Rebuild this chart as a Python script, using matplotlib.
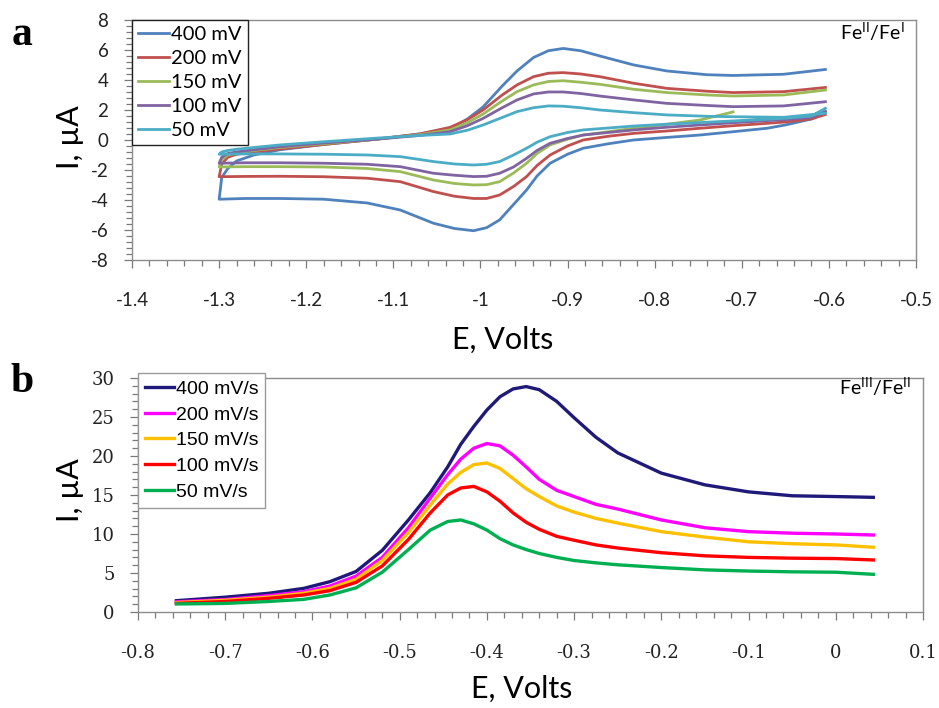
import numpy as np
import matplotlib.pyplot as plt
from matplotlib.ticker import MultipleLocator, FuncFormatter

plt.rcParams['font.family'] = ['Lato', 'DejaVu Sans']
plt.rcParams['mathtext.fontset'] = 'custom'
plt.rcParams['mathtext.rm'] = 'Lato'

# ---- panel a : cyclic voltammograms Fe(II)/Fe(I) ----
# forward (upper) branch, -1.3 -> -0.6 V
E_up = [-1.30, -1.297, -1.29, -1.28, -1.26, -1.23, -1.18, -1.12, -1.07, -1.035,
        -1.015, -0.997, -0.975, -0.958, -0.939, -0.922, -0.905, -0.885, -0.863,
        -0.824, -0.786, -0.74, -0.71, -0.652, -0.604]
# reverse (lower) branch, -0.6 -> -1.3 V
E_dn = [-0.604, -0.62, -0.65, -0.671, -0.71, -0.748, -0.786, -0.824, -0.853,
        -0.882, -0.90, -0.920, -0.935, -0.947, -0.962, -0.978, -0.993, -1.008,
        -1.03, -1.054, -1.092, -1.13, -1.18, -1.23, -1.27, -1.30]

labels_a = ['400 mV', '200 mV', '150 mV', '100 mV', '50 mV']
colors_a = ['#4F81BD', '#C0504D', '#9BBB59', '#8064A2', '#4BACC6']

up_400 = [-3.95, -2.5, -1.9, -1.4, -1.0, -0.65, -0.3, 0.05, 0.4, 0.75, 1.4, 2.2, 3.6,
          4.6, 5.5, 5.95, 6.1, 5.95, 5.6, 5.0, 4.6, 4.35, 4.3, 4.38, 4.7]
up_200 = [-2.45, -1.6, -1.15, -0.95, -0.8, -0.6, -0.3, 0.05, 0.4, 0.84, 1.35, 2.0, 3.0,
          3.67, 4.22, 4.45, 4.49, 4.4, 4.22, 3.78, 3.44, 3.25, 3.16, 3.22, 3.5]
up_150 = [-1.8, -1.3, -1.0, -0.85, -0.7, -0.5, -0.25, 0.05, 0.35, 0.67, 1.15, 1.73, 2.6,
          3.22, 3.67, 3.9, 3.95, 3.85, 3.71, 3.38, 3.16, 3.0, 2.93, 3.0, 3.33]
up_100 = [-1.55, -1.15, -0.9, -0.8, -0.65, -0.45, -0.2, 0.05, 0.3, 0.55, 0.95, 1.44, 2.15,
          2.67, 3.07, 3.2, 3.2, 3.1, 2.93, 2.67, 2.44, 2.3, 2.22, 2.27, 2.55]
up_50 = [-0.95, -0.8, -0.7, -0.62, -0.5, -0.33, -0.12, 0.12, 0.3, 0.4, 0.65, 1.0, 1.5,
         1.89, 2.15, 2.27, 2.25, 2.15, 2.0, 1.82, 1.67, 1.58, 1.55, 1.51, 1.78]

dn_400 = [1.9, 1.4, 1.0, 0.78, 0.55, 0.33, 0.17, 0.0, -0.25, -0.55, -0.95, -1.55, -2.4,
          -3.33, -4.3, -5.33, -5.85, -6.05, -5.9, -5.55, -4.67, -4.2, -3.95, -3.9, -3.9, -3.95]
dn_200 = [1.7, 1.4, 1.2, 1.11, 0.95, 0.78, 0.6, 0.44, 0.25, 0.0, -0.4, -1.0, -1.7,
          -2.44, -3.1, -3.67, -3.9, -3.9, -3.75, -3.44, -2.78, -2.55, -2.45, -2.42, -2.43, -2.45]
dn_150 = [np.nan, np.nan, np.nan, np.nan, 1.87, 1.33, 1.05, 0.78, 0.55, 0.33, 0.05, -0.33, -0.9,
          -1.55, -2.2, -2.78, -2.98, -3.0, -2.9, -2.67, -2.11, -1.9, -1.8, -1.78, -1.78, -1.8]
dn_100 = [1.89, 1.5, 1.35, 1.29, 1.15, 1.0, 0.85, 0.67, 0.5, 0.33, 0.1, -0.22, -0.7,
          -1.22, -1.8, -2.22, -2.42, -2.44, -2.35, -2.22, -1.78, -1.62, -1.55, -1.52, -1.52, -1.55]
dn_50 = [2.11, 1.6, 1.45, 1.38, 1.27, 1.16, 1.05, 0.93, 0.8, 0.67, 0.5, 0.22, -0.15,
         -0.55, -1.0, -1.44, -1.62, -1.67, -1.6, -1.44, -1.11, -1.0, -0.95, -0.93, -0.93, -0.95]

ups = [up_400, up_200, up_150, up_100, up_50]
dns = [dn_400, dn_200, dn_150, dn_100, dn_50]

# ---- panel b : linear sweeps Fe(III)/Fe(II) ----
E_b = [-0.756, -0.70, -0.65, -0.61, -0.58, -0.55, -0.52, -0.49, -0.465, -0.445, -0.43,
       -0.415, -0.40, -0.385, -0.37, -0.355, -0.34, -0.32, -0.30, -0.275, -0.25, -0.20,
       -0.15, -0.10, -0.05, 0.0, 0.043]
labels_b = ['400 mV/s', '200 mV/s', '150 mV/s', '100 mV/s', '50 mV/s']
colors_b = ['#1F1A7A', '#FF00FF', '#FFC000', '#FF0000', '#00B050']

i_400 = [1.45, 1.9, 2.4, 3.03, 3.89, 5.2, 7.9, 11.8, 15.3, 18.6, 21.5, 23.8, 25.9, 27.6,
         28.6, 28.9, 28.5, 27.0, 24.9, 22.4, 20.4, 17.8, 16.3, 15.4, 14.9, 14.8, 14.7]
i_200 = [1.3, 1.6, 2.1, 2.6, 3.33, 4.6, 7.0, 10.8, 14.6, 17.6, 19.6, 21.0, 21.6, 21.3,
         20.1, 18.6, 17.0, 15.6, 14.8, 13.8, 13.2, 11.8, 10.8, 10.3, 10.1, 10.0, 9.87]
i_150 = [1.2, 1.5, 1.9, 2.4, 3.03, 4.2, 6.6, 10.2, 13.7, 16.4, 17.9, 18.9, 19.1, 18.4,
         17.1, 15.8, 14.8, 13.6, 12.8, 12.0, 11.4, 10.3, 9.6, 9.0, 8.75, 8.6, 8.3]
i_100 = [1.1, 1.35, 1.75, 2.18, 2.74, 3.8, 5.9, 9.3, 12.7, 15.0, 15.9, 16.1, 15.4, 14.2,
         12.7, 11.5, 10.6, 9.7, 9.2, 8.6, 8.2, 7.6, 7.2, 7.0, 6.9, 6.85, 6.67]
i_50 = [1.03, 1.1, 1.35, 1.62, 2.18, 3.1, 5.1, 8.0, 10.5, 11.6, 11.8, 11.3, 10.5, 9.4,
        8.6, 8.0, 7.5, 7.0, 6.6, 6.3, 6.05, 5.7, 5.4, 5.25, 5.15, 5.1, 4.83]
currents_b = [i_400, i_200, i_150, i_100, i_50]


def fmt(v, pos):
    return f"{round(v, 2) + 0.0:g}"


def style_axes(ax, tick_font, spine_col='#8C8C8C'):
    for s in ax.spines.values():
        s.set_color(spine_col)
        s.set_linewidth(1.0)
    ax.tick_params(which='both', direction='out', color='#7A7A7A', width=0.9)
    ax.tick_params(which='major', length=6)
    ax.tick_params(which='minor', length=4)
    ax.tick_params(axis='x', pad=17)
    ax.tick_params(axis='y', pad=11)
    ax.xaxis.set_major_formatter(FuncFormatter(fmt))
    ax.yaxis.set_major_formatter(FuncFormatter(fmt))
    for lab in ax.get_xticklabels() + ax.get_yticklabels():
        lab.set_fontproperties(tick_font)
        lab.set_color('#222222')


fig = plt.figure(figsize=(9.39, 7.08), dpi=100)

# panel a
ax1 = fig.add_axes([0.1406, 0.6328, 0.8349, 0.339])
for lab, col, up, dn in zip(labels_a, colors_a, ups, dns):
    x = np.concatenate([E_dn, E_up])
    y = np.concatenate([dn, up])
    ax1.plot(x, y, color=col, lw=2.0, label=lab)
ax1.set_xlim(-1.4, -0.5)
ax1.set_ylim(-8, 8)
ax1.xaxis.set_major_locator(MultipleLocator(0.1))
ax1.xaxis.set_minor_locator(MultipleLocator(0.02))
ax1.yaxis.set_major_locator(MultipleLocator(2))
ax1.yaxis.set_minor_locator(MultipleLocator(0.4))
style_axes(ax1, {'family': ['Lato'], 'size': 13.5})
leg = ax1.legend(loc='upper left', bbox_to_anchor=(0, 1), borderaxespad=0,
                 fontsize=14.5, handlelength=1.55, handletextpad=0.1,
                 labelspacing=0.34, borderpad=0.3, fancybox=False,
                 framealpha=1)
leg.get_frame().set_edgecolor('#222222')
leg.get_frame().set_linewidth(1.0)
ax1.text(0.985, 0.95, r'Fe$^{\mathrm{II}}$/Fe$^{\mathrm{I}}$', transform=ax1.transAxes,
         ha='right', va='center', fontsize=14)

# panel b
ax2 = fig.add_axes([0.147, 0.1356, 0.836, 0.3305])
for lab, col, cur in zip(labels_b, colors_b, currents_b):
    ax2.plot(E_b, cur, color=col, lw=2.4, label=lab)
ax2.set_xlim(-0.8, 0.1)
ax2.set_ylim(0, 30)
ax2.xaxis.set_major_locator(MultipleLocator(0.1))
ax2.xaxis.set_minor_locator(MultipleLocator(0.02))
ax2.yaxis.set_major_locator(MultipleLocator(5))
ax2.yaxis.set_minor_locator(MultipleLocator(1))
style_axes(ax2, {'family': ['DejaVu Serif'], 'size': 13})
leg2 = ax2.legend(loc='upper left', bbox_to_anchor=(0, 1.02), borderaxespad=0,
                  prop={'family': ['Liberation Sans'], 'size': 14},
                  handlelength=1.5, handletextpad=0.1, labelspacing=0.42,
                  borderpad=0.35, fancybox=False, framealpha=1)
leg2.get_frame().set_edgecolor('#9A9A9A')
leg2.get_frame().set_linewidth(1.0)
ax2.text(0.985, 0.965, r'Fe$^{\mathrm{III}}$/Fe$^{\mathrm{II}}$', transform=ax2.transAxes,
         ha='right', va='center', fontsize=14)

# axis titles and panel letters
fig.text(503 / 939, 1 - 340 / 708, 'E, Volts', ha='center', va='center', fontsize=22)
fig.text(522 / 939, 1 - 689 / 708, 'E, Volts', ha='center', va='center', fontsize=22)
fig.text(70 / 939, 1 - 137 / 708, 'I, µA', ha='center', va='center', fontsize=22, rotation=90)
fig.text(70 / 939, 1 - 490 / 708, 'I, µA', ha='center', va='center', fontsize=22, rotation=90)
fig.text(22 / 939, 1 - 35 / 708, 'a', ha='center', va='center', fontsize=30,
         fontweight='bold', family='Liberation Serif')
fig.text(22 / 939, 1 - 382 / 708, 'b', ha='center', va='center', fontsize=30,
         fontweight='bold', family='Liberation Serif')

fig.savefig('out.png', dpi=100)
